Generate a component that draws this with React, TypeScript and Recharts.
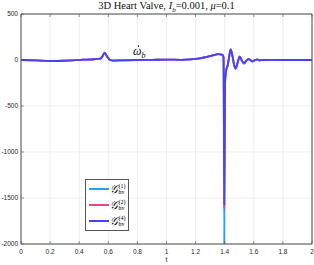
import { LineChart, Line, XAxis, YAxis, CartesianGrid } from 'recharts'

const times = [0, 0.1, 0.2, 0.3, 0.43, 0.5, 0.545, 0.56, 0.575, 0.59, 0.61, 0.637, 0.7, 0.8, 0.9, 1.0, 1.1, 1.23, 1.32, 1.356, 1.385, 1.392, 1.397, 1.402, 1.41, 1.42, 1.43, 1.441, 1.455, 1.465, 1.476, 1.49, 1.503, 1.518, 1.533, 1.548, 1.563, 1.577, 1.59, 1.607, 1.625, 1.64, 1.66, 1.7, 1.8, 1.9, 2.0]
const g1 = [0, -5, -11, -8, 3, 8, 14, 40, 80, 42, 3, -6, -3, 0, 2, 4, 2, 18, 50, 64, 55, 30, -2000, -260, -115, -65, 25, 112, 28, -62, -98, -24, 34, -8, -42, -10, 10, -3, -18, -3, 5, -5, 0, 2, 0, 0, 0]
const g2 = [0, -5, -11, -8, 3, 8, 14, 40, 80, 42, 3, -6, -3, 0, 2, 4, 2, 18, 50, 64, 55, 30, -1610, -250, -112, -62, 28, 116, 30, -57, -90, -21, 37, -6, -37, -9, 11, -1, -15, -2, 6, -4, 0, 2, 0, 0, 0]
const g4 = [0, -5, -11, -8, 3, 8, 14, 40, 80, 42, 3, -6, -3, 0, 2, 4, 2, 18, 50, 64, 55, 30, -1570, -250, -110, -60, 30, 117, 30, -55, -88, -20, 38, -5, -35, -8, 12, 0, -14, -2, 6, -4, 0, 2, 0, 0, 0]

const xTicks = [0, 0.2, 0.4, 0.6, 0.8, 1, 1.2, 1.4, 1.6, 1.8, 2]
const yTicks = [-2000, -1500, -1000, -500, 0, 500]

const data = times.map((t, i) => ({ t, g1: g1[i], g2: g2[i], g4: g4[i] }))

const AXIS = '#4d4d4d'
const TICK_FONT = 'Liberation Sans, Arial, sans-serif'

const series = [
  { key: 'g1', label: '1', color: '#23a6ee' },
  { key: 'g2', label: '2', color: '#ee4488' },
  { key: 'g4', label: '4', color: '#4343ff' },
]

const BottomTick = (props: any) => {
  const { x, y, payload } = props
  return (
    <g>
      <line x1={x} x2={x} y1={y} y2={y - 3} stroke={AXIS} strokeWidth={0.6} />
      <text x={x} y={y + 9.5} textAnchor="middle" fontSize={6.5} fill="#262626" fontFamily={TICK_FONT}>
        {payload.value}
      </text>
    </g>
  )
}

const TopTick = (props: any) => {
  const { x, y } = props
  return <line x1={x} x2={x} y1={y} y2={y + 3} stroke={AXIS} strokeWidth={0.6} />
}

const LeftTick = (props: any) => {
  const { x, y, payload } = props
  return (
    <g>
      <line x1={x} x2={x + 3} y1={y} y2={y} stroke={AXIS} strokeWidth={0.6} />
      <text x={x - 3} y={y + 2.3} textAnchor="end" fontSize={6.5} fill="#262626" fontFamily={TICK_FONT}>
        {payload.value}
      </text>
    </g>
  )
}

const RightTick = (props: any) => {
  const { x, y } = props
  return <line x1={x} x2={x - 3} y1={y} y2={y} stroke={AXIS} strokeWidth={0.6} />
}

function LegendBox() {
  return (
    <div
      style={{
        position: 'absolute',
        left: 85,
        top: 179,
        border: '1px solid #555',
        background: '#fff',
        width: 44,
        height: 52,
        padding: '1px 0',
        boxSizing: 'border-box',
        fontFamily: 'Liberation Serif, serif',
      }}
    >
      {series.map((s) => (
        <div key={s.key} style={{ display: 'flex', alignItems: 'center', height: 16 }}>
          <div style={{ width: 20, height: 2, background: s.color, marginLeft: 3, marginRight: 1 }} />
          <span style={{ fontSize: 11, fontStyle: 'italic', lineHeight: '11px' }}>𝒢</span>
          <span style={{ display: 'inline-flex', flexDirection: 'column', fontSize: 6, lineHeight: '6px', marginLeft: 0.5 }}>
            <span>({s.label})</span>
            <span>hv</span>
          </span>
        </div>
      ))}
    </div>
  )
}

export default function App() {
  return (
    <div style={{ position: 'absolute', left: 0, top: 0, width: 314, height: 265, background: '#fff' }}>
      <div
        style={{
          position: 'absolute',
          left: 21,
          width: 291,
          top: 0,
          textAlign: 'center',
          fontFamily: 'Liberation Serif, serif',
          fontSize: 10.5,
          lineHeight: '12px',
          color: '#111',
        }}
      >
        3D Heart Valve, <i>I</i>
        <sub style={{ fontSize: 7, fontStyle: 'italic' }}>b</sub>=0.001, <i>μ</i>=0.1
      </div>
      <LineChart
        width={314}
        height={265}
        data={data}
        margin={{ top: 13, right: 1, bottom: 20, left: 20 }}
      >
        <CartesianGrid stroke="#e6e6e6" strokeWidth={0.7} />
        <XAxis
          dataKey="t"
          type="number"
          domain={[0, 2]}
          ticks={xTicks}
          height={1}
          tickSize={0}
          tickMargin={0}
          stroke={AXIS}
          tick={BottomTick}
          interval={0}
        />
        <XAxis
          xAxisId="top"
          dataKey="t"
          type="number"
          orientation="top"
          domain={[0, 2]}
          ticks={xTicks}
          height={1}
          tickSize={0}
          tickMargin={0}
          stroke={AXIS}
          tick={TopTick}
          interval={0}
        />
        <YAxis
          type="number"
          domain={[-2000, 500]}
          ticks={yTicks}
          width={1}
          tickSize={0}
          tickMargin={0}
          stroke={AXIS}
          tick={LeftTick}
          allowDataOverflow
          interval={0}
        />
        <YAxis
          yAxisId="r"
          orientation="right"
          type="number"
          domain={[-2000, 500]}
          ticks={yTicks}
          width={1}
          tickSize={0}
          tickMargin={0}
          stroke={AXIS}
          tick={RightTick}
          interval={0}
        />
        {series.map((s) => (
          <Line
            key={s.key}
            dataKey={s.key}
            stroke={s.color}
            strokeWidth={1.8}
            dot={false}
            type="monotone"
            isAnimationActive={false}
          />
        ))}
      </LineChart>
      <LegendBox />
      <div
        style={{
          position: 'absolute',
          left: 133,
          top: 45,
          fontFamily: 'Liberation Serif, serif',
          fontStyle: 'italic',
          fontSize: 12,
          lineHeight: '12px',
          color: '#111',
        }}
      >
        <span style={{ position: 'relative' }}>
          ω
          <span
            style={{
              position: 'absolute',
              left: 4.5,
              top: 1,
              width: 1.6,
              height: 1.6,
              borderRadius: 1,
              background: '#111',
            }}
          />
        </span>
        <sub style={{ fontSize: 8 }}>b</sub>
      </div>
      <div
        style={{
          position: 'absolute',
          left: 21,
          width: 291,
          top: 256,
          textAlign: 'center',
          fontFamily: TICK_FONT,
          fontSize: 7,
          lineHeight: '8px',
          color: '#262626',
        }}
      >
        t
      </div>
    </div>
  )
}
